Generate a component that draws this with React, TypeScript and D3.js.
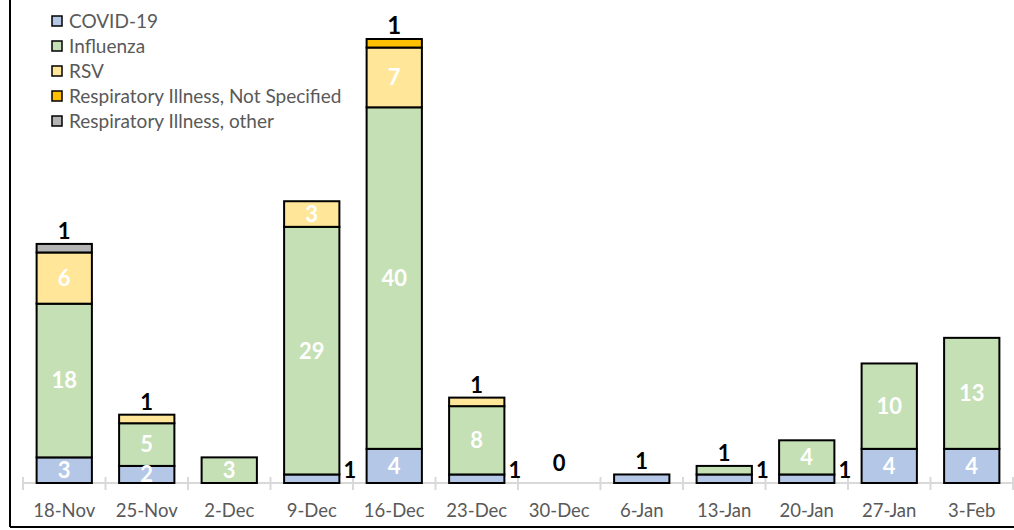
import React from "react";
import * as d3 from "d3";

const categories = ["18-Nov", "25-Nov", "2-Dec", "9-Dec", "16-Dec", "23-Dec", "30-Dec", "6-Jan", "13-Jan", "20-Jan", "27-Jan", "3-Feb"];
const seriesNames = ["COVID-19", "Influenza", "RSV", "Respiratory Illness, Not Specified", "Respiratory Illness, other"];
const covid = [3, 2, 0, 1, 4, 1, 0, 1, 1, 1, 4, 4];
const influenza = [18, 5, 3, 29, 40, 8, 0, 0, 1, 4, 10, 13];
const rsv = [6, 1, 0, 3, 7, 1, 0, 0, 0, 0, 0, 0];
const notSpecified = [0, 0, 0, 0, 1, 0, 0, 0, 0, 0, 0, 0];
const other = [1, 0, 0, 0, 0, 0, 0, 0, 0, 0, 0, 0];
const colors = ["#b4c7e7", "#c5e0b4", "#ffe699", "#ffc000", "#b4b4b4"];

const W = 1014;
const H = 530;
const FONT = "Lato, 'Open Sans', sans-serif";

export default function App() {
  const series = [covid, influenza, rsv, notSpecified, other];
  const rows = categories.map((c, i) => {
    const r: any = { cat: c };
    seriesNames.forEach((s, k) => (r[s] = series[k][i]));
    return r;
  });
  const stacked = d3.stack<any>().keys(seriesNames)(rows);

  const x = d3.scaleBand().domain(categories).range([23, 1013]).paddingInner(0.33).paddingOuter(0.165);
  const step = x.step();
  const y = d3.scaleLinear().domain([0, 52]).range([483, 39]);
  const bw = x.bandwidth();

  const totals = categories.map((_, i) => series.reduce((a, s) => a + s[i], 0));

  const segs: React.ReactNode[] = [];
  const labels: React.ReactNode[] = [];
  stacked.forEach((layer, k) => {
    layer.forEach((d, i) => {
      const v = d[1] - d[0];
      if (v <= 0) return;
      const cx = x(categories[i])!;
      const y0 = y(d[0]);
      const y1 = y(d[1]);
      segs.push(
        <rect key={`s${k}-${i}`} x={cx} y={y1} width={bw} height={y0 - y1} fill={colors[k]} stroke="#000" strokeWidth={2} />
      );
      const h = y0 - y1;
      if (h >= 15 && v > 1) {
        labels.push(
          <text key={`l${k}-${i}`} x={cx + bw / 2} y={(y0 + y1) / 2} dy="0.36em" textAnchor="middle" fill="#fff" fontWeight="bold" fontSize={22} fontFamily={FONT}>
            {v}
          </text>
        );
      } else {
        const isTop = d[1] === totals[i];
        if (isTop) {
          labels.push(
            <text key={`l${k}-${i}`} x={cx + bw / 2} y={y1 - 5} textAnchor="middle" fill="#000" fontWeight="bold" fontSize={k === 3 ? 24 : 22} fontFamily={FONT}>
              {v}
            </text>
          );
        } else {
          labels.push(
            <text key={`l${k}-${i}`} x={cx + bw + 4} y={y0 - 5} textAnchor="start" fill="#000" fontWeight="bold" fontSize={22} fontFamily={FONT}>
              {v}
            </text>
          );
        }
      }
    });
  });

  categories.forEach((c, i) => {
    if (totals[i] === 0) {
      labels.push(
        <text key={`z${i}`} x={x(c)! + bw / 2} y={y(0) - 12} textAnchor="middle" fill="#000" fontWeight="bold" fontSize={22} fontFamily={FONT}>
          0
        </text>
      );
    }
  });

  const tickXs = d3.range(categories.length + 1).map((j) => 23 + j * step);

  return (
    <svg width={W} height={H} style={{ position: "absolute", left: 0, top: 0, background: "#fff" }}>
      <rect x={0} y={0} width={W} height={H} fill="#fff" />
      <line x1={10} y1={-5} x2={10} y2={527} stroke="#000" strokeWidth={2} />
      <line x1={10} y1={527} x2={W + 5} y2={527} stroke="#000" strokeWidth={2} />
      <line x1={23} y1={483} x2={1013} y2={483} stroke="#d9d9d9" strokeWidth={2} />
      {tickXs.map((t, j) => (
        <line key={`t${j}`} x1={t} y1={477} x2={t} y2={490} stroke="#d9d9d9" strokeWidth={2} />
      ))}
      {segs}
      {labels}
      {categories.map((c) => (
        <text key={`a${c}`} x={x(c)! + bw / 2} y={517} textAnchor="middle" fill="#595959" fontSize={18.5} fontFamily={FONT}>
          {c}
        </text>
      ))}
      {seriesNames.map((s, k) => (
        <g key={`lg${k}`} transform={`translate(0, ${21 + k * 25})`}>
          <rect x={52} y={-5} width={10} height={10} fill={colors[k]} stroke="#000" strokeWidth={1.5} />
          <text x={69} y={0} dy="0.35em" fill="#595959" fontSize={19} fontFamily={FONT}>
            {s}
          </text>
        </g>
      ))}
    </svg>
  );
}
